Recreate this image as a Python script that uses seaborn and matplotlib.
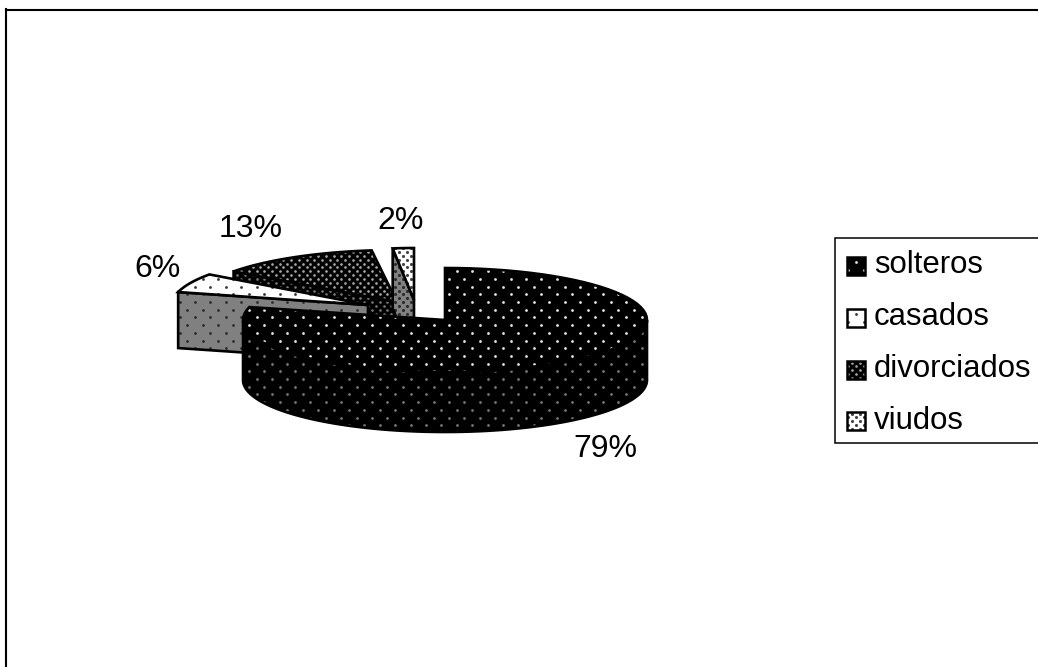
import numpy as np
import matplotlib
matplotlib.use("Agg")
import matplotlib.pyplot as plt
from matplotlib.patches import Polygon, Rectangle
import seaborn as sns

# Survey data
categories = ["solteros", "casados", "divorciados", "viudos"]
percentages = [79, 6, 13, 2]

W, H = 1038, 667
RY = 52
OUTLINE = 1.9

# Position and extent of each exploded slice, in pixels
apexes = {"solteros": (445, 320), "casados": (368, 305),
          "divorciados": (397, 302), "viudos": (414, 300)}
radii_x = {"solteros": 202, "casados": 196, "divorciados": 202, "viudos": 170}
depths = {"solteros": 60, "casados": 56, "divorciados": 60, "viudos": 60}
label_pos = {"solteros": (605, 449), "casados": (157, 269),
             "divorciados": (251, 229), "viudos": (401, 221)}
draw_order = ["divorciados", "viudos", "casados", "solteros"]

# face colour, dot colour, dx, dy, dot size
top_style = {"solteros": ("#000000", "#e4e4e4", 15.4, 7.7, 4),
             "casados": ("#ffffff", "#333333", 15.4, 7.7, 4),
             "divorciados": ("#000000", "#a8a8a8", 7.7, 3.85, 3.6),
             "viudos": ("#ffffff", "#444444", 7.7, 3.85, 5)}
wall_style = {"solteros": ("#000000", "#777777", 15.4, 7.7, 4),
              "casados": ("#808080", "#2c2c2c", 15.4, 7.7, 4),
              "divorciados": ("#000000", "#777777", 7.7, 3.85, 3.6),
              "viudos": ("#808080", "#2c2c2c", 7.7, 3.85, 5)}

sns.set_theme(style="ticks")
plt.rcParams["font.family"] = ["Liberation Sans", "DejaVu Sans"]

fig = plt.figure(figsize=(W / 100, H / 100), dpi=100, facecolor="white")
top_edge = 9.5
left_edge = 6
ax = fig.add_axes([left_edge / W, 0, 1 - left_edge / W, 1 - top_edge / H])
ax.set_xlim(left_edge, W)
ax.set_ylim(H, top_edge)
ax.set_xticks([])
ax.set_yticks([])
ax.set_autoscale_on(False)
sns.despine(ax=ax, top=False, right=True, left=False, bottom=True)
for side in ("top", "left"):
    ax.spines[side].set_linewidth(1.5)
    ax.spines[side].set_color("black")


def dotted_polygon(points, face, dots, dx, dy, size, z, origin=(449, 279), lw=OUTLINE):
    """Fill a polygon and lay a staggered dot texture over it."""
    points = np.asarray(points)
    patch = Polygon(points, closed=True, facecolor=face, edgecolor="none", zorder=z)
    ax.add_patch(patch)
    (x0, y0), (x1, y1) = points.min(axis=0), points.max(axis=0)
    rows = np.arange(np.floor((y0 - origin[1]) / dy), np.ceil((y1 - origin[1]) / dy) + 1)
    xs, ys = [], []
    for r in rows:
        shift = dx / 2 if int(r) % 2 else 0
        cols = np.arange(np.floor((x0 - origin[0]) / dx) - 1, np.ceil((x1 - origin[0]) / dx) + 2)
        xs.extend(origin[0] + cols * dx + shift)
        ys.extend(np.full(cols.size, origin[1] + r * dy))
    before = len(ax.collections)
    sns.scatterplot(x=xs, y=ys, s=size, color=dots, linewidth=0, ax=ax,
                    legend=False, zorder=z + 0.1)
    for coll in ax.collections[before:]:
        coll.set_clip_path(patch)
    ax.add_patch(Polygon(points, closed=True, facecolor="none", edgecolor="black",
                         linewidth=lw, joinstyle="miter", zorder=z + 0.2))


def arc_points(cx, cy, rx, a, b, n=80):
    t = np.radians(np.linspace(a, b, n))
    return np.column_stack([cx + rx * np.cos(t), cy - RY * np.sin(t)])


# Slice angles run clockwise from 12 o'clock
start_angles = {}
sweeps = {}
running = 90.0
for name, pct in zip(categories, percentages):
    start_angles[name] = running
    sweeps[name] = 3.6 * pct
    running -= sweeps[name]

z = 2.0
for name in draw_order:
    cx, cy = apexes[name]
    rx = radii_x[name]
    a = start_angles[name]
    b = a - sweeps[name]
    arc = arc_points(cx, cy, rx, a, b)
    down = np.array([0, depths[name]])

    # Side wall along the leading radius
    apex = np.array([cx, cy], dtype=float)
    quad = np.array([apex, arc[0], arc[0] + down, apex + down])
    if name != "solteros":
        dotted_polygon(quad, *wall_style[name], z)
        z += 1

    # Outer rim, front-facing part only
    t = np.radians(np.linspace(a, b, 240))
    front = np.sin(t) <= 0
    if front.any():
        rim = np.column_stack([cx + rx * np.cos(t[front]), cy - RY * np.sin(t[front])])
        wall = np.vstack([rim, (rim + down)[::-1]])
        dotted_polygon(wall, *wall_style[name], z)
        z += 1

    # Upper face
    dotted_polygon(np.vstack([apex, arc]), *top_style[name], z)
    z += 1

# Percentage labels
for name, pct in zip(categories, percentages):
    x, y = label_pos[name]
    ax.text(x, y, f"{pct}%", fontsize=23, ha="center", va="center",
            color="black", zorder=50)

# Legend box, running past the right side of the canvas
ax.add_patch(Rectangle((835, 238), 260, 205, facecolor="white", edgecolor="black",
                       linewidth=1.1, zorder=60))
swatch_tops = [257, 309, 361, 412]
text_centres = [265, 317, 369, 421]
for name, sy, ty in zip(categories, swatch_tops, text_centres):
    face, dots, dx, dy, size = top_style[name]
    square = [(847, sy), (865, sy), (865, sy + 18), (847, sy + 18)]
    if name in ("solteros", "casados"):
        dx, dy = 15.4, 7.7
    dotted_polygon(square, face, dots, dx, dy, size, 61, origin=(856, sy + 5.5), lw=1.8)
    ax.text(874, ty, name, fontsize=22.4, ha="left", va="center", color="black", zorder=62)

fig.savefig("out.png", dpi=100, facecolor="white")
